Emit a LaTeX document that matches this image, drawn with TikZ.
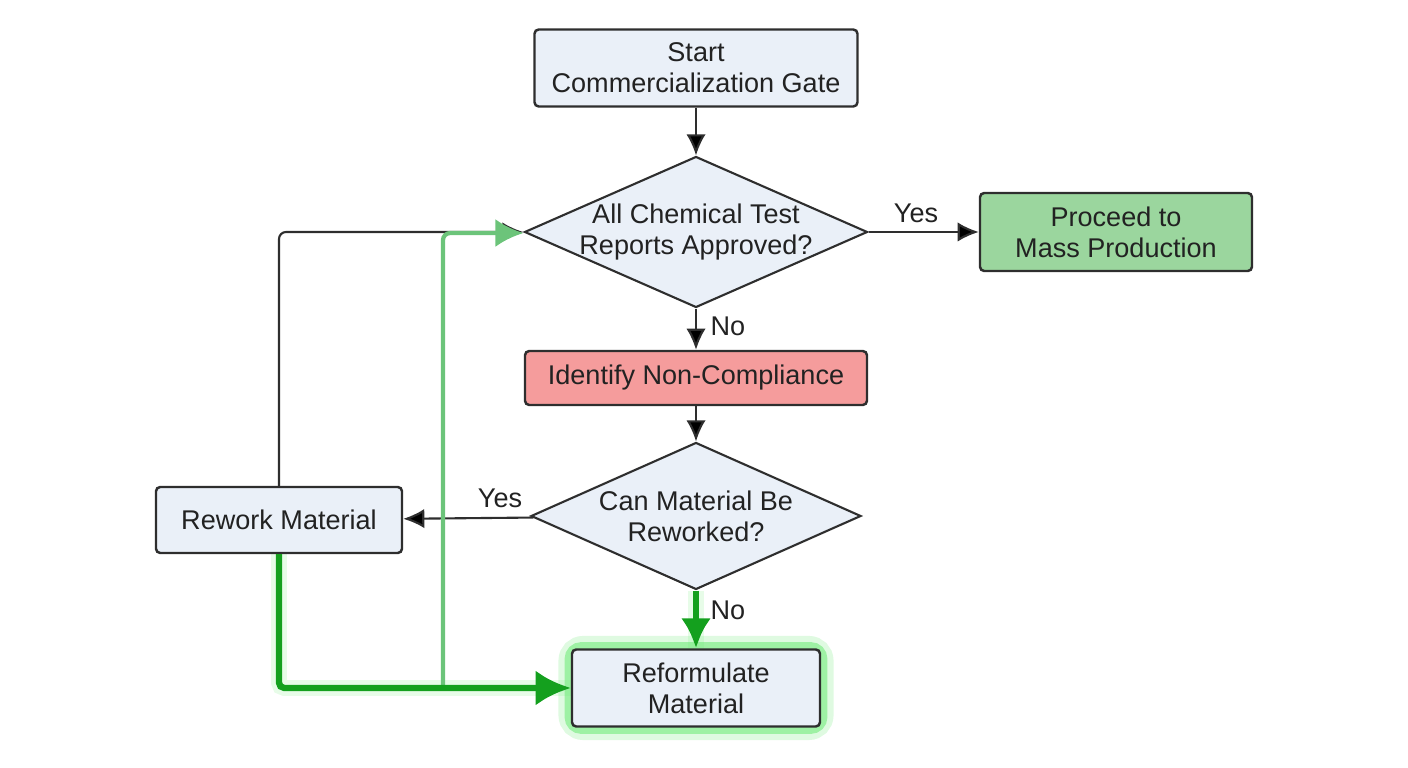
\documentclass[tikz,border=0pt]{standalone}
\usepackage{fontspec}
\setmainfont{Liberation Sans}
\usepackage{tikz}
\usetikzlibrary{shapes.geometric,arrows.meta,backgrounds}

\definecolor{boxfill}{HTML}{EAF0F8}
\definecolor{boxline}{HTML}{2E2E2E}
\definecolor{okfill}{HTML}{9BD69E}
\definecolor{badfill}{HTML}{F59C9C}
\definecolor{pathgreen}{HTML}{14A01E}
\definecolor{loopgreen}{HTML}{6CC47A}
\definecolor{glowgreen}{HTML}{5EE868}
\definecolor{txt}{HTML}{222222}

\begin{document}
\begin{tikzpicture}[
	font=\fontsize{7.7pt}{8.8pt}\selectfont, text=txt,
	box/.style={shape=rectangle,draw=boxline,fill=boxfill,line width=0.7pt,rounded corners=1.2pt,align=center,inner sep=0pt},
	choice/.style={shape=diamond,draw=boxline,fill=boxfill,line width=0.6pt,align=center,inner sep=-2.5pt},
	flow/.style={draw=boxline,line width=0.6pt,-{Latex[length=6pt,width=5.5pt]}},
	tag/.style={inner sep=0pt}
	]
	\useasboundingbox (0,0) rectangle (14.08,7.68);
	
	\node[box,minimum width=3.23cm,minimum height=0.77cm] (start) at (6.96, 7.0)     {Start\\Commercialization Gate};
	\node[choice,aspect=2.27,minimum width=3.43cm,minimum height=1.51cm] (approved) at (6.96, 5.36)     {All Chemical Test\\Reports Approved?};
	\node[box,fill=okfill,minimum width=2.72cm,minimum height=0.78cm] (proceed) at (11.16, 5.36)     {Proceed to\\Mass Production};
	
	\node[box,fill=badfill,minimum width=3.42cm,minimum height=0.54cm] (identify) at (6.96, 3.90)     {Identify Non-Compliance};
	\node[choice,aspect=2.24,minimum width=3.30cm,minimum height=1.47cm] (rework?) at (6.96, 2.52)     {Can Material Be\\Reworked?};
	\node[box,minimum width=2.46cm,minimum height=0.66cm] (rework) at (2.79, 2.48)     {Rework Material};
	
	\node[box,minimum width=2.48cm,minimum height=0.77cm] (reform) at (6.96, 0.80)     {Reformulate\\Material};
	\coordinate (split) at (4.43, 0.80);
	
	% labels
	\node[tag] (yes1) at (9.16, 5.55)     {Yes};
	\node[tag] (no1) at (7.28, 4.42)     {No};
	\node[tag] (yes2) at (5.00, 2.70)     {Yes};
	\node[tag] (no2) at (7.28, 1.58)     {No};
	
	\path[flow] (start) edge (approved);
	\path[flow] (approved) edge (proceed);
	\path[flow] (approved) edge (identify);
	\path[flow] (identify) edge (rework?);
	\path[flow] (rework?) edge (rework);
	
	% back to the first check
	\draw[flow,rounded corners=2pt] (rework.north) |- (approved.west);
	\draw[loopgreen,line width=1.2pt,rounded corners=2pt,-{Latex[length=8pt,width=8pt]}] (split) |- ([yshift=-0.3pt]approved.west);
	
	% highlighted path
	\draw[pathgreen,line width=1.8pt,rounded corners=1.5pt,-{Latex[length=10pt,width=10pt]}] (rework.south) |- (reform.west);
	\draw[pathgreen,line width=1.8pt,-{Latex[length=8.5pt,width=8.5pt]}] (rework?.south) -- (reform.north);
	
	\begin{scope}[on background layer]
		\draw[glowgreen,line width=6pt,opacity=0.2,rounded corners=4pt] ([shift={(-0.5pt,-0.5pt)}]reform.south west) rectangle ([shift={(0.5pt,0.5pt)}]reform.north east);
		\draw[glowgreen,line width=3.5pt,opacity=0.5,rounded corners=3pt] (reform.south west) rectangle (reform.north east);
		\draw[glowgreen,line width=4.5pt,opacity=0.15,rounded corners=1.5pt] (rework.south) |- (reform.west);
		\draw[glowgreen,line width=4.5pt,opacity=0.15] (rework?.south) -- (reform.north);
	\end{scope}
	
\end{tikzpicture}
\end{document}
